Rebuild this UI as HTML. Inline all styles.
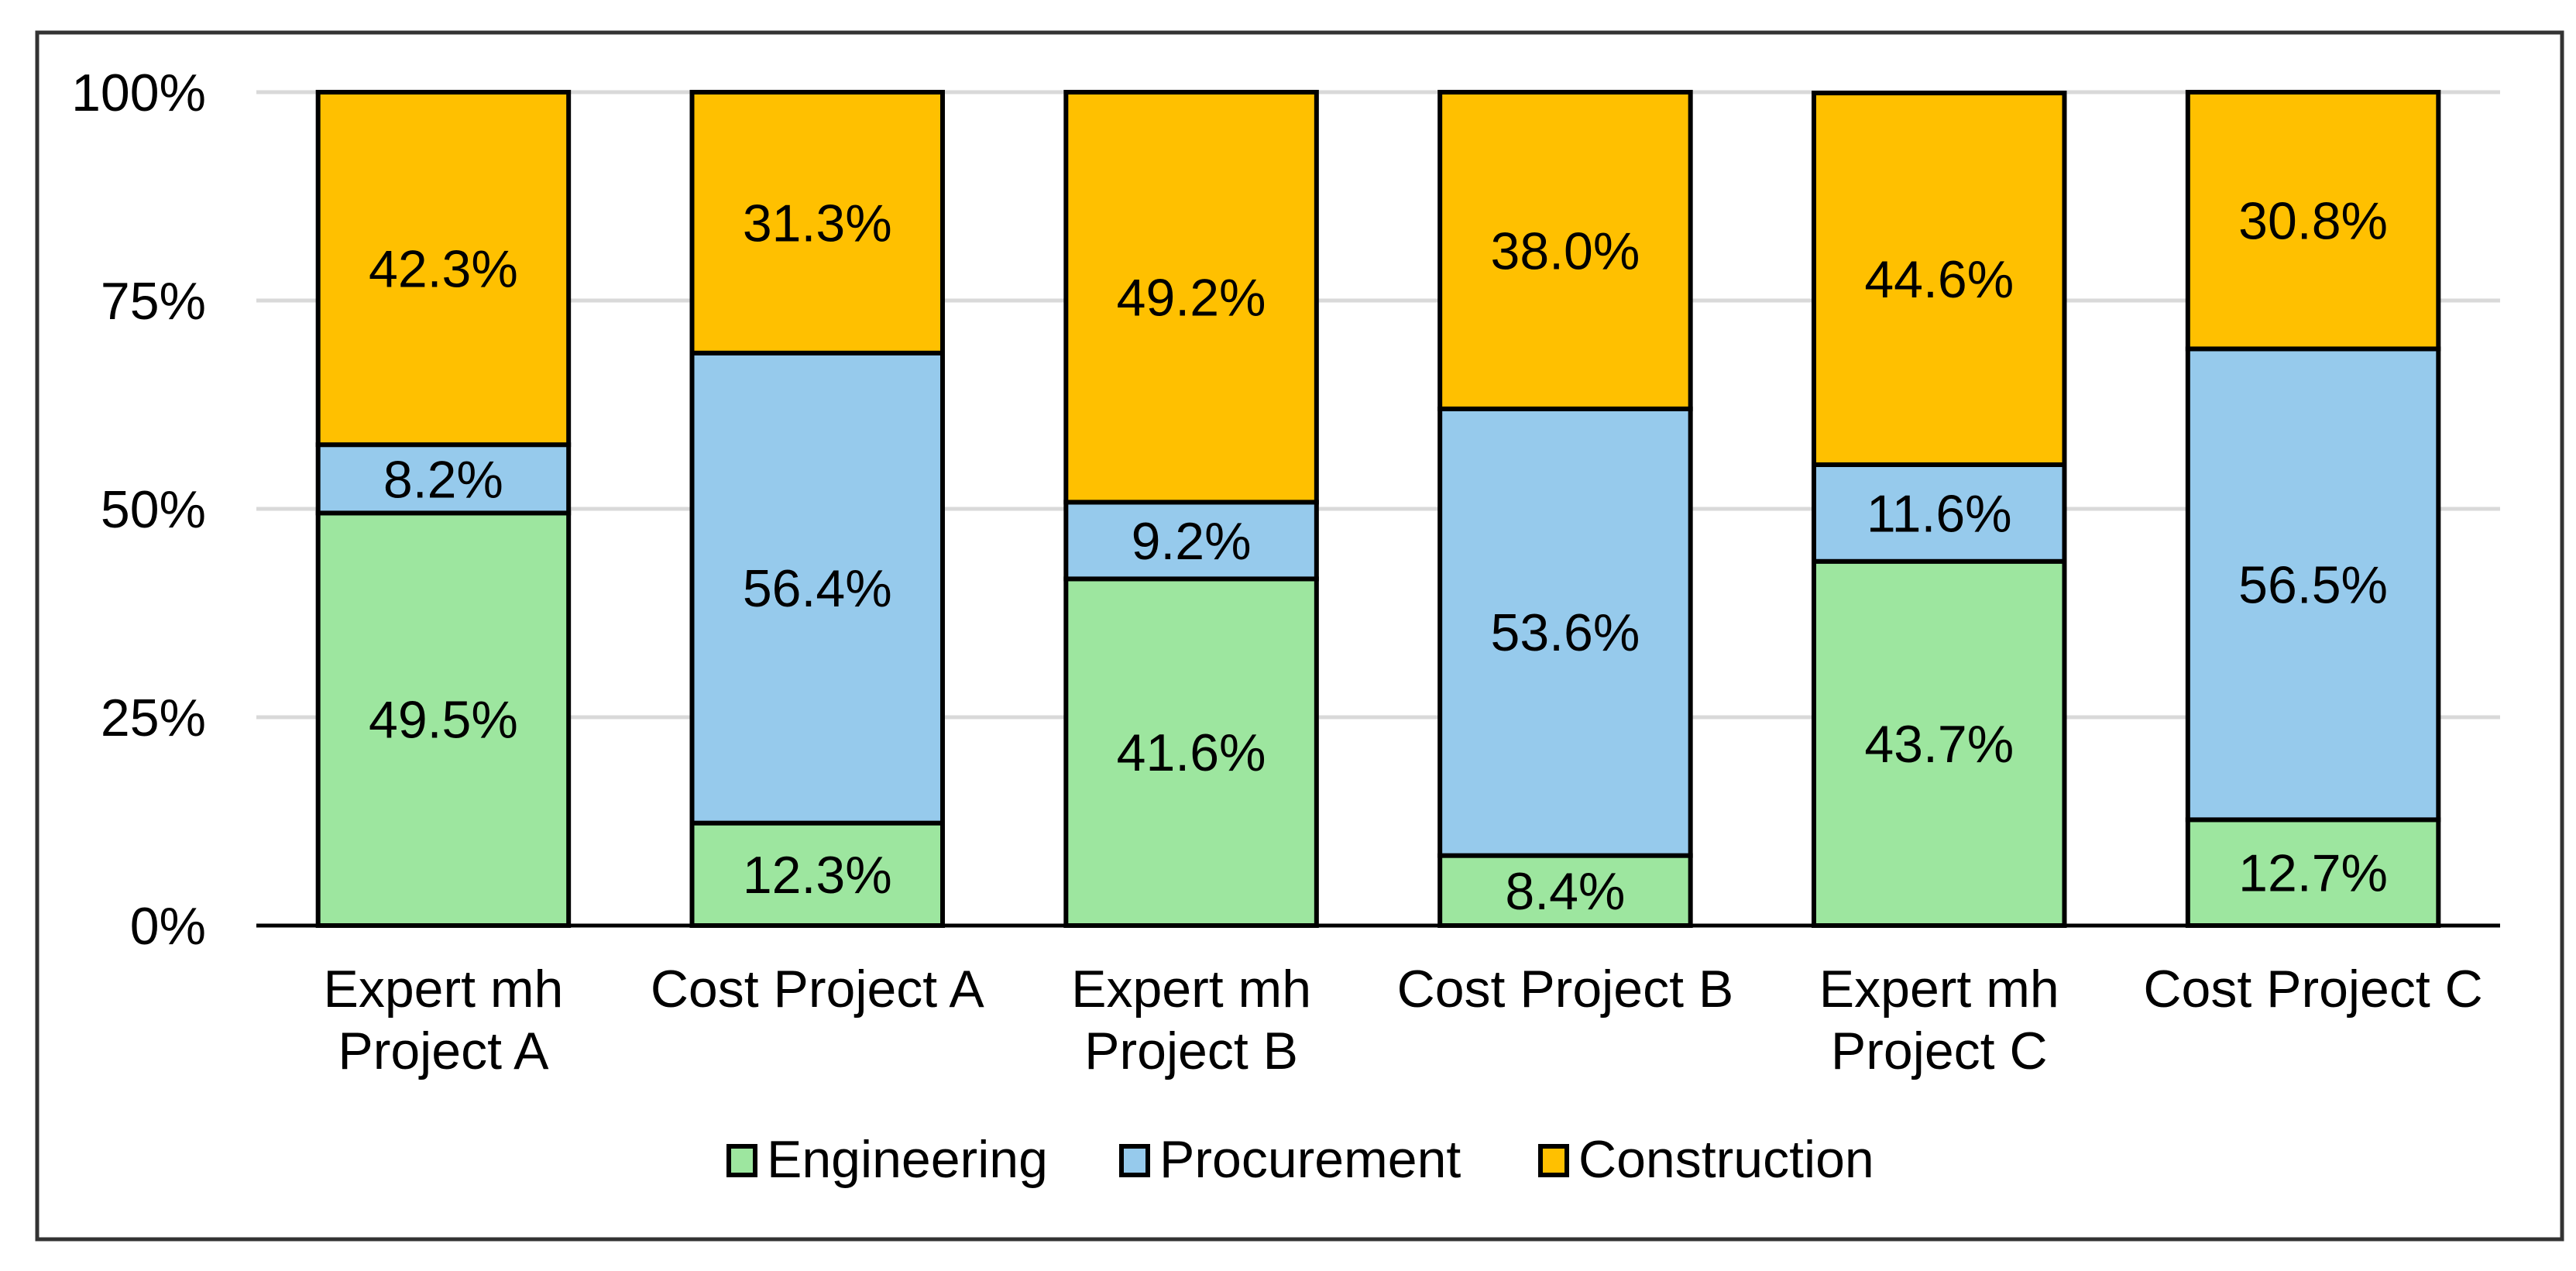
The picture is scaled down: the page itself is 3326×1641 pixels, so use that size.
<!DOCTYPE html>
<html><head><meta charset="utf-8"><style>
html,body{margin:0;padding:0;background:#fff;}
svg{display:block;font-family:"Liberation Sans",Arial,sans-serif;}
</style></head><body>
<svg id="chart" width="3326" height="1641" viewBox="0 0 3326 1641" xmlns="http://www.w3.org/2000/svg">
<rect x="48" y="42" width="3260" height="1558" fill="#fff" stroke="#333" stroke-width="5"/>
<g id="grid"></g><g id="bars"></g><g id="labels"></g><g id="legend"></g>
</svg>
<script>
const categories = [["Expert mh","Project A"],["Cost Project A"],["Expert mh","Project B"],["Cost Project B"],["Expert mh","Project C"],["Cost Project C"]];
const engineering = [49.5,12.3,41.6,8.4,43.7,12.7];
const procurement = [8.2,56.4,9.2,53.6,11.6,56.5];
const construction = [42.3,31.3,49.2,38.0,44.6,30.8];
const yTicks = [0,25,50,75,100];
const seriesNames = ["Engineering","Procurement","Construction"];

const NS="http://www.w3.org/2000/svg";
const colors=["#9DE69F","#96CAEC","#FFC000"];
const x0=331,x1=3228,y0=1195,y1=119;
const band=(x1-x0)/categories.length, barW=band*0.67;
const yS=v=>y0-(v/100)*(y0-y1);
const xC=i=>x0+band*(i+0.5);
function mk(tag,attrs,parent){const e=document.createElementNS(NS,tag);for(const k in attrs)e.setAttribute(k,attrs[k]);parent.appendChild(e);return e;}
const grid=document.getElementById('grid'),bars=document.getElementById('bars'),labels=document.getElementById('labels'),legend=document.getElementById('legend');
yTicks.forEach(t=>{
  if(t>0){const l=mk('line',{x1:x0,x2:x1,y1:yS(t),y2:yS(t),stroke:'#d9d9d9','stroke-width':5},grid);
  
  }
  const tx=mk('text',{x:266,y:yS(t)+24,'text-anchor':'end','font-size':68,fill:'#000'},grid);
  tx.textContent=t+'%';
  
  
});
const series=[engineering,procurement,construction];
categories.forEach((c,i)=>{
  let base=0;
  series.forEach((s,k)=>{
    const v=s[i],top=base+v;
    const r=mk('rect',{x:xC(i)-barW/2,y:yS(top),width:barW,height:yS(base)-yS(top),fill:colors[k],stroke:'#000','stroke-width':6},bars);
    
    
    const t=mk('text',{x:xC(i),y:(yS(top)+yS(base))/2+24,'text-anchor':'middle','font-size':68,fill:'#000'},labels);
    t.textContent=v.toFixed(1)+'%';
    
    
    base=top;
  });
  c.forEach((line,j)=>{
    const t=mk('text',{x:xC(i),y:1300+j*80,'text-anchor':'middle','font-size':68,fill:'#000'},labels);
    t.textContent=line;
    
    
  });
});
const ax=mk('line',{x1:x0,x2:x1,y1:y0,y2:y0,stroke:'#000','stroke-width':5},grid);


const legX=[938,1445,1986];
seriesNames.forEach((n,k)=>{
  const g=mk('g',{},legend);
  
  
  mk('rect',{x:legX[k]+3,y:1480,width:34,height:37,fill:colors[k],stroke:'#000','stroke-width':6},g);
  const t=mk('text',{x:legX[k]+52,y:1520,'font-size':68,fill:'#000'},g);
  t.textContent=n;
});
</script>
</body></html>
